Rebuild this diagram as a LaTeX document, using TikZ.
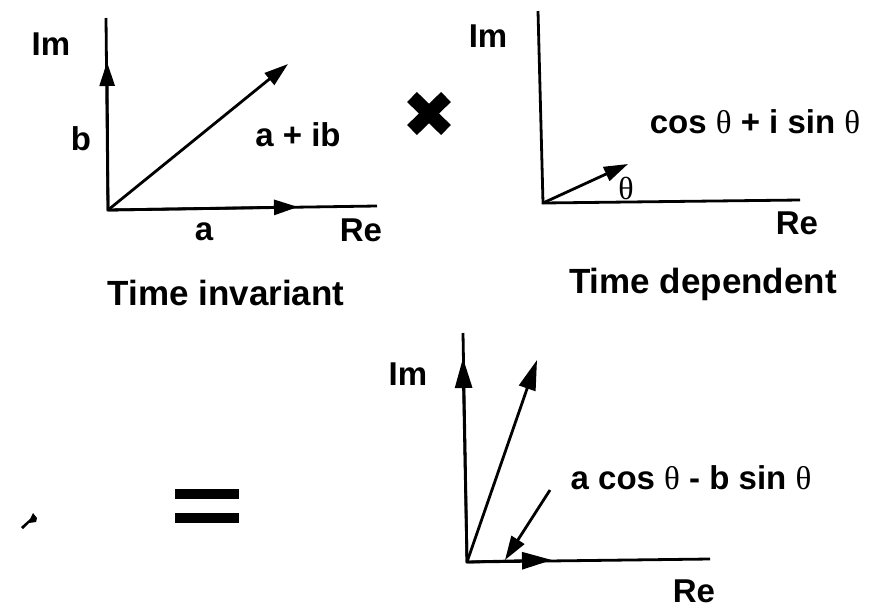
\documentclass[tikz,border=0pt]{standalone}
\usepackage{fontspec}
\setmainfont{Liberation Sans}
\newfontfamily\thfont{Liberation Serif}
\usetikzlibrary{arrows.meta}
\newcommand{\thx}{{\thfont\mdseries θ}}
\begin{document}
\begin{tikzpicture}[x=1pt,y=-1pt,
  ax/.style={line width=2.8pt},
  hd/.style={-{Triangle[length=24pt,width=15pt]}},
  hdb/.style={-{Triangle[length=30pt,width=17pt]}},
  lbl/.style={inner sep=0pt,font=\fontsize{33}{36}\bfseries\selectfont},
  ttl/.style={inner sep=0pt,font=\fontsize{35}{38}\bfseries\selectfont}]
\useasboundingbox (0,0) rectangle (875,608);
% ---------- panel 1 ----------
\coordinate (o1) at (108,210);
\coordinate (top1) at (106,18);
\coordinate (end1) at (377,206);
\coordinate (tv1) at (107,62);
\coordinate (th1) at (298,207);
\coordinate (td1) at (288,64);
\draw[ax] (top1) -- (o1) -- (end1);
\draw[ax,hd] (o1) -- (tv1);
\draw[ax,hd] (o1) -- (th1);
\draw[ax,hd] (o1) -- (td1);
\node[lbl] (im1) at (51,44) {Im};
\node[lbl] (b1) at (81,139) {b};
\node[lbl] (aib) at (298,135) {a + ib};
\node[lbl] (a1) at (204,232) {a};
\node[lbl] (re1) at (361,230) {Re};
\node[ttl] (t1) at (226,293) {Time invariant};
% ---------- times sign ----------
\coordinate (x1) at (412,97);
\coordinate (x2) at (446,130);
\coordinate (x3) at (446,97);
\coordinate (x4) at (412,130);
\draw[line width=14pt] (x1) -- (x2);
\draw[line width=14pt] (x3) -- (x4);
% ---------- panel 2 ----------
\coordinate (o2) at (543,203);
\coordinate (top2) at (538,11);
\coordinate (end2) at (800,200);
\coordinate (t2) at (628,164);
\draw[ax] (top2) -- (o2) -- (end2);
\draw[ax,hd] (o2) -- (t2);
\node[inner sep=0pt,font=\fontsize{32}{34}\selectfont] (th2) at (626,188) {\thx};
\node[lbl] (im2) at (488,36) {Im};
\node[lbl] (cis) at (755,122) {cos \thx\ + i sin \thx};
\node[lbl] (re2) at (797,223) {Re};
\node[ttl] (t2l) at (703,284) {Time dependent};
% ---------- equals ----------
\fill (175,489) rectangle (239,499);
\fill (175,513) rectangle (239,523);
% ---------- speck ----------
\fill (21,527) -- (30,519) -- (33,513) -- (37,518) -- (36,522) -- (29,523) -- (23,529) -- cycle;
% ---------- panel 3 ----------
\coordinate (o3) at (467,562);
\coordinate (top3) at (463,333);
\coordinate (end3) at (710,559);
\coordinate (tv3) at (463,358);
\coordinate (tt3) at (537,360);
\coordinate (th3) at (552,560);
\coordinate (ps) at (550,490);
\coordinate (pt) at (505,560);
\draw[ax] (top3) -- (o3) -- (end3);
\draw[ax,hdb] (o3) -- (tv3);
\draw[ax,hdb] (o3) -- (tt3);
\draw[ax,hdb] (o3) -- (th3);
\draw[ax,hd] (ps) -- (pt);
\node[lbl] (im3) at (408,374) {Im};
\node[lbl] (acb) at (691,478) {a cos \thx\ - b sin \thx};
\node[lbl] (re3) at (694,591) {Re};
\end{tikzpicture}
\end{document}
